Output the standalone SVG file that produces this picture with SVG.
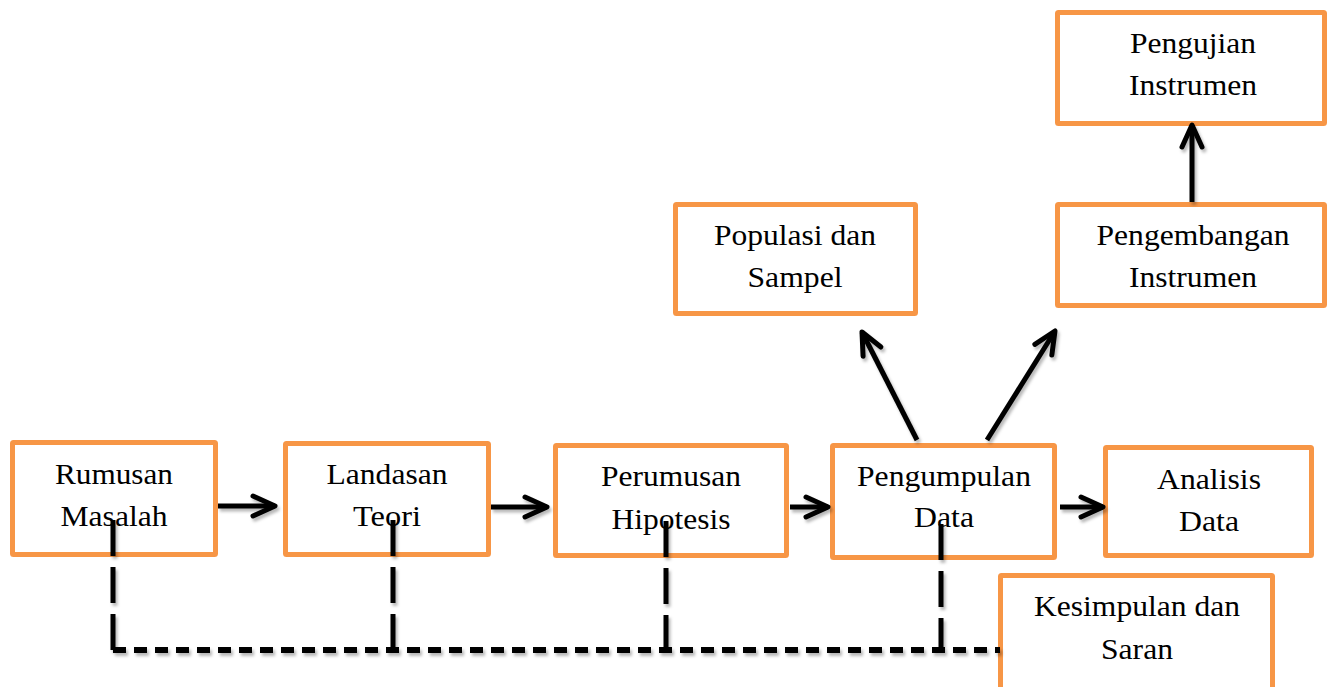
<svg xmlns="http://www.w3.org/2000/svg" width="1336" height="687" viewBox="0 0 1336 687">
  <style>
    .box { fill: #ffffff; stroke: #F79646; stroke-width: 5; }
    .lbl { font-family: "Liberation Serif", "Times New Roman", serif; font-size: 30px; fill: #000000; text-anchor: middle; }
    .arrow { fill: none; stroke: #000000; stroke-width: 5; marker-end: url(#head); }
    .vdash { fill: none; stroke: #000000; stroke-width: 5; stroke-dasharray: 36 11; }
    .hdash { fill: none; stroke: #000000; stroke-width: 6; stroke-dasharray: 13 8; }
  </style>
  <defs>
    <marker id="head" markerUnits="userSpaceOnUse" viewBox="-28 -15 32 30" markerWidth="32" markerHeight="30" refX="0" refY="0" orient="auto" overflow="visible">
      <path d="M-22,-10 L0,0 L-22,10" fill="none" stroke="#000000" stroke-width="5" stroke-linecap="round" stroke-linejoin="round"/>
    </marker>
    <filter id="shadow" x="-20%" y="-20%" width="140%" height="140%">
      <feDropShadow dx="2" dy="3" stdDeviation="1.8" flood-color="#000000" flood-opacity="0.28"/>
    </filter>
  </defs>
  <rect width="1336" height="687" fill="#ffffff"/>

  <g id="node-rumusan">
    <rect class="box" x="12.5" y="442.5" width="203" height="112" rx="1"/>
    <text class="lbl" x="114" y="484" textLength="118" lengthAdjust="spacingAndGlyphs">Rumusan</text>
    <text class="lbl" x="114" y="526" textLength="107" lengthAdjust="spacingAndGlyphs">Masalah</text>
  </g>
  <g id="node-landasan">
    <rect class="box" x="285.5" y="443.5" width="203" height="111" rx="1"/>
    <text class="lbl" x="387" y="484" textLength="121" lengthAdjust="spacingAndGlyphs">Landasan</text>
    <text class="lbl" x="387" y="526" textLength="68" lengthAdjust="spacingAndGlyphs">Teori</text>
  </g>
  <g id="node-perumusan">
    <rect class="box" x="555.5" y="445.5" width="231" height="110" rx="1"/>
    <text class="lbl" x="671" y="486" textLength="140" lengthAdjust="spacingAndGlyphs">Perumusan</text>
    <text class="lbl" x="671" y="529" textLength="119" lengthAdjust="spacingAndGlyphs">Hipotesis</text>
  </g>
  <g id="node-pengumpulan">
    <rect class="box" x="832.5" y="445.5" width="222" height="112" rx="1"/>
    <text class="lbl" x="944" y="486" textLength="174" lengthAdjust="spacingAndGlyphs">Pengumpulan</text>
    <text class="lbl" x="944" y="527" textLength="60" lengthAdjust="spacingAndGlyphs">Data</text>
  </g>
  <g id="node-analisis">
    <rect class="box" x="1105.5" y="447.5" width="206" height="108" rx="1"/>
    <text class="lbl" x="1209" y="489" textLength="104" lengthAdjust="spacingAndGlyphs">Analisis</text>
    <text class="lbl" x="1209" y="531" textLength="60" lengthAdjust="spacingAndGlyphs">Data</text>
  </g>
  <g id="node-kesimpulan">
    <rect class="box" x="1000.5" y="575.5" width="272" height="120" rx="1"/>
    <text class="lbl" x="1137" y="616" textLength="206" lengthAdjust="spacingAndGlyphs">Kesimpulan dan</text>
    <text class="lbl" x="1137" y="659" textLength="72" lengthAdjust="spacingAndGlyphs">Saran</text>
  </g>
  <g id="node-populasi">
    <rect class="box" x="675.5" y="204.5" width="240" height="109" rx="1"/>
    <text class="lbl" x="795" y="245" textLength="162" lengthAdjust="spacingAndGlyphs">Populasi dan</text>
    <text class="lbl" x="795" y="287" textLength="95" lengthAdjust="spacingAndGlyphs">Sampel</text>
  </g>
  <g id="node-pengembangan">
    <rect class="box" x="1057.5" y="204.5" width="267" height="101" rx="1"/>
    <text class="lbl" x="1193" y="245" textLength="193" lengthAdjust="spacingAndGlyphs">Pengembangan</text>
    <text class="lbl" x="1193" y="287" textLength="128" lengthAdjust="spacingAndGlyphs">Instrumen</text>
  </g>
  <g id="node-pengujian">
    <rect class="box" x="1057.5" y="12.5" width="267" height="111" rx="1"/>
    <text class="lbl" x="1193" y="53" textLength="126" lengthAdjust="spacingAndGlyphs">Pengujian</text>
    <text class="lbl" x="1193" y="95" textLength="128" lengthAdjust="spacingAndGlyphs">Instrumen</text>
  </g>

  <g id="connectors" filter="url(#shadow)">
    <path class="arrow" d="M218,506 L275,506"/>
    <path class="arrow" d="M491,507 L547,507"/>
    <path class="arrow" d="M790,507 L828,507"/>
    <path class="arrow" d="M1060,507 L1103,507"/>
    <path class="arrow" d="M917,440 L862,332"/>
    <path class="arrow" d="M987,440 L1055,331"/>
    <path class="arrow" d="M1192,202 L1192,125"/>
    <path class="vdash" d="M113,520 L113,653"/>
    <path class="vdash" d="M393,520 L393,656"/>
    <path class="vdash" d="M666,521 L666,654"/>
    <path class="vdash" d="M941,524 L941,648"/>
    <path class="hdash" d="M113,650 L1000,650"/>
  </g>
</svg>
